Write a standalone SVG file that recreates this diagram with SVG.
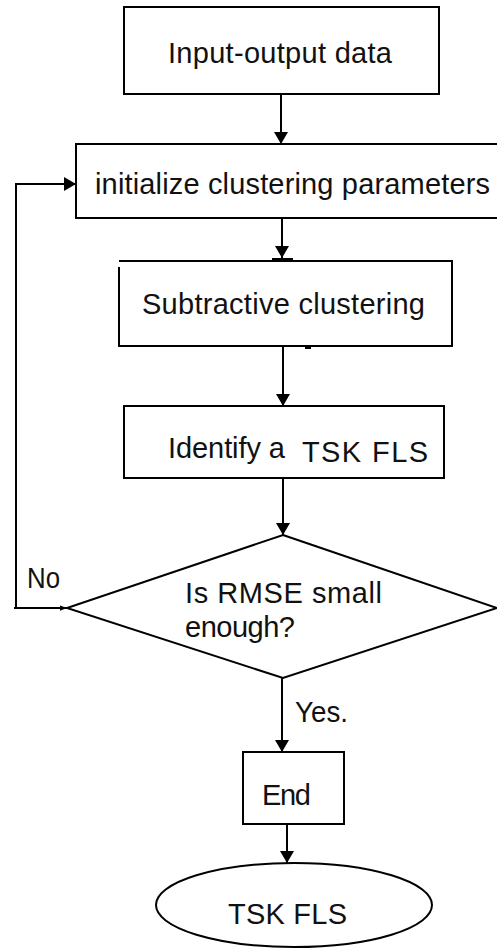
<svg xmlns="http://www.w3.org/2000/svg" width="497" height="949" viewBox="0 0 497 949">
  <style>
    .shape { fill: #fff; stroke: #000; stroke-width: 2; }
    .line { fill: none; stroke: #000; stroke-width: 2; }
    .label { font-family: "Liberation Sans", Arial, sans-serif; font-size: 29px; fill: #111; }
  </style>
  <defs>
    <marker id="arrow" viewBox="0 0 12 14" refX="12" refY="7" markerWidth="12" markerHeight="14" markerUnits="userSpaceOnUse" orient="auto">
      <path d="M0,0 L12,7 L0,14 Z" fill="#000"/>
    </marker>
    <marker id="arrowSmall" viewBox="0 0 8 8" refX="8" refY="4" markerWidth="7" markerHeight="7" markerUnits="userSpaceOnUse" orient="auto">
      <path d="M0,1 L8,4 L0,7 Z" fill="#000"/>
    </marker>
  </defs>

  <!-- connectors -->
  <g id="connectors">
    <line class="line" x1="281" y1="94" x2="281" y2="144" marker-end="url(#arrow)"/>
    <line class="line" x1="282" y1="218" x2="282" y2="258" marker-end="url(#arrow)"/>
    <line x1="272" y1="259.5" x2="293" y2="259.5" stroke="#000" stroke-width="3"/>
    <line x1="305" y1="347.5" x2="311" y2="347.5" stroke="#000" stroke-width="3"/>
    <line class="line" x1="283" y1="346" x2="283" y2="406" marker-end="url(#arrow)"/>
    <line class="line" x1="283" y1="478" x2="283" y2="535" marker-end="url(#arrow)"/>
    <!-- "No" loop back to the parameter step -->
    <polyline class="line" points="67,608 16,608 16,184 76,184" marker-end="url(#arrow)"/>
    <line x1="14" y1="608" x2="67" y2="608" stroke="#000" stroke-width="2" marker-end="url(#arrowSmall)"/>
    <line class="line" x1="282" y1="678" x2="282" y2="752" marker-end="url(#arrow)"/>
    <line class="line" x1="287" y1="824" x2="287" y2="863" marker-end="url(#arrow)"/>
    <text class="label" x="27" y="588" font-size="28" textLength="33" lengthAdjust="spacingAndGlyphs">No</text>
    <text class="label" x="295" y="722" font-size="28" textLength="53" lengthAdjust="spacingAndGlyphs">Yes.</text>
  </g>

  <g id="input-data">
    <rect class="shape" x="124" y="7" width="315" height="87"/>
    <text class="label" x="168" y="63" textLength="224" lengthAdjust="spacing">Input-output data</text>
  </g>

  <g id="init-params">
    <rect class="shape" x="76" y="144" width="425" height="74"/>
    <text class="label" x="95" y="194" textLength="395" lengthAdjust="spacing">initialize clustering parameters</text>
  </g>

  <g id="subtractive">
    <path class="line" d="M119,261 H452 V346 H119 V267"/>
    <text class="label" x="142" y="314" textLength="283" lengthAdjust="spacing">Subtractive clustering</text>
  </g>

  <g id="identify">
    <rect class="shape" x="124" y="406" width="320" height="72"/>
    <text class="label" x="168" y="458" textLength="117" lengthAdjust="spacing">Identify a</text>
    <text class="label" x="302" y="462" font-size="30" textLength="126" lengthAdjust="spacing">TSK FLS</text>
  </g>

  <g id="rmse-check">
    <polygon class="shape" points="283,535 497,608 283,678 67,608"/>
    <text class="label" x="185" y="603" font-size="30" textLength="197" lengthAdjust="spacing">Is RMSE small</text>
    <text class="label" x="185" y="637" textLength="110" lengthAdjust="spacing">enough?</text>
  </g>

  <g id="end">
    <rect class="shape" x="243" y="752" width="101" height="72"/>
    <text class="label" x="262" y="805" font-size="28" textLength="49" lengthAdjust="spacing">End</text>
  </g>

  <g id="result">
    <ellipse class="shape" cx="294" cy="905" rx="138" ry="42" stroke-width="1.6"/>
    <text class="label" x="228" y="924" textLength="119" lengthAdjust="spacing">TSK FLS</text>
  </g>
</svg>
